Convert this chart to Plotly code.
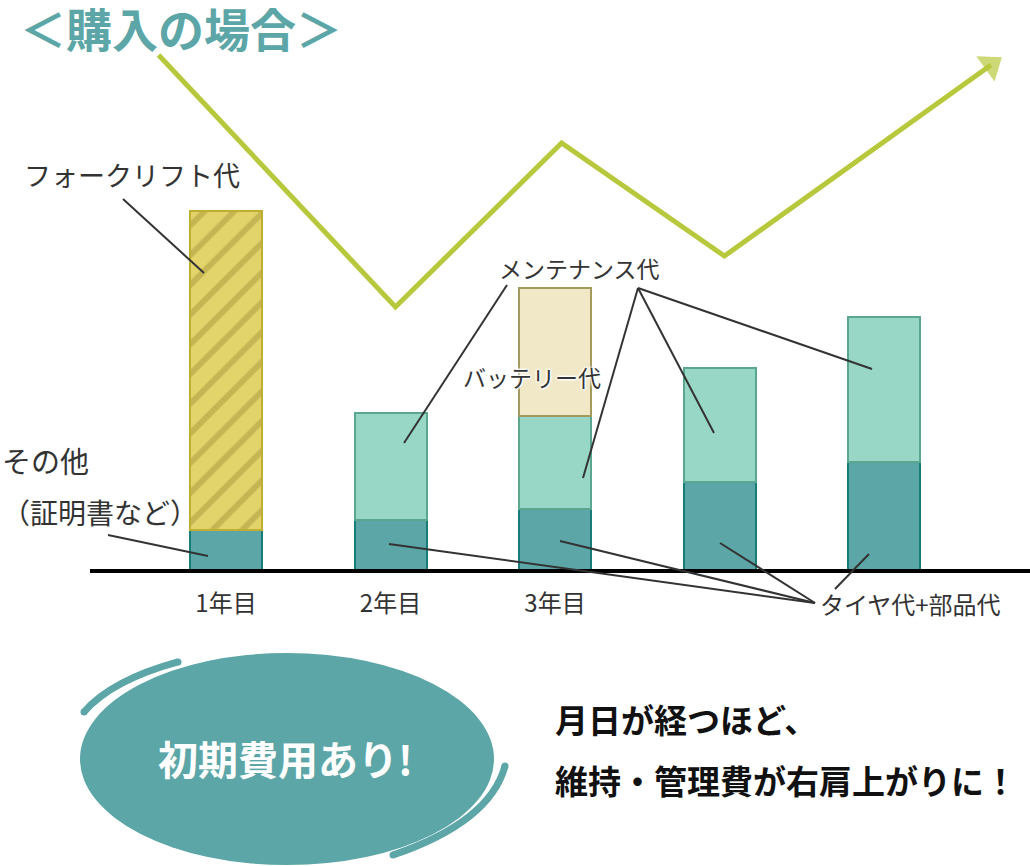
import plotly.graph_objects as go

W, H = 1030, 866

# ---- data -------------------------------------------------------------
positions = [1, 2, 3, 4, 5]
tick_positions = [1, 2, 3]
tick_labels = ["1年目", "2年目", "3年目"]

tire_parts = [41, 51, 62, 89, 109]          # タイヤ代+部品代 / その他
forklift = [319, None, None, None, None]    # フォークリフト代
maintenance = [None, 107, 93, 114, 145]     # メンテナンス代
battery = [None, None, 128, None, None]     # バッテリー代

trend_x = [0.59, 2.03, 3.04, 4.03, 5.65]
trend_y = [516, 264, 428, 315, 506]

# ---- colours ----------------------------------------------------------
TEAL = "#5ca6a8"
TEAL_LINE = "#187c78"
MINT = "#98d7c5"
MINT_LINE = "#5aa68e"
BEIGE = "#f0e8c7"
BEIGE_LINE = "#a39a5e"
YELLOW = "#e2d46b"
YELLOW_LINE = "#c0ae33"
HATCH = "#a8983c"
LIME = "#b8c83c"
FONT = "Noto Sans CJK JP"

BAR_W = 0.4377

fig = go.Figure()
fig.add_trace(go.Bar(x=positions, y=tire_parts, width=BAR_W,
                     marker=dict(color=TEAL, line=dict(color=TEAL_LINE, width=2))))
fig.add_trace(go.Bar(x=positions, y=forklift, width=BAR_W,
                     marker=dict(color=YELLOW, line=dict(color=YELLOW_LINE, width=2),
                                 pattern=dict(shape="/", fgcolor=HATCH, size=21, solidity=0.28))))
fig.add_trace(go.Bar(x=positions, y=maintenance, width=BAR_W,
                     marker=dict(color=MINT, line=dict(color=MINT_LINE, width=2))))
fig.add_trace(go.Bar(x=positions, y=battery, width=BAR_W,
                     marker=dict(color=BEIGE, line=dict(color=BEIGE_LINE, width=2))))

fig.add_trace(go.Scatter(
    x=trend_x, y=trend_y, mode="lines+markers",
    line=dict(color=LIME, width=5),
    marker=dict(symbol=["circle"] * 4 + ["triangle-up"], size=[0, 0, 0, 0, 27],
                color=LIME, angleref="previous", line=dict(width=0)),
))


def P(px, py):
    return px / W, 1 - py / H


def pxpath(cmds):
    out = []
    for c in cmds:
        if isinstance(c, str):
            out.append(c)
        else:
            x, y = P(*c)
            out.append(f"{x:.5f},{y:.5f}")
    return " ".join(out)


shapes = []
# ellipse and swooshes
x0, y0 = P(80, 865)
x1, y1 = P(494, 653)
shapes.append(dict(type="circle", xref="paper", yref="paper", x0=x0, x1=x1, y0=y0, y1=y1,
                   fillcolor=TEAL, line=dict(width=0), layer="below"))
shapes.append(dict(type="path", xref="paper", yref="paper",
                   path=pxpath(["M", (84, 712), "Q", (112, 680), (178, 662)]),
                   line=dict(color=TEAL, width=7)))
shapes.append(dict(type="path", xref="paper", yref="paper",
                   path=pxpath(["M", (505, 766), "Q", (490, 822), (393, 855)]),
                   line=dict(color=TEAL, width=7)))
# rounded caps for swooshes
for cx, cy in [(84, 712), (178, 662), (505, 766), (393, 855)]:
    a0, b0 = P(cx - 3.5, cy + 3.5)
    a1, b1 = P(cx + 3.5, cy - 3.5)
    shapes.append(dict(type="circle", xref="paper", yref="paper", x0=a0, y0=b0, x1=a1, y1=b1,
                       fillcolor=TEAL, line=dict(width=0)))

# baseline
shapes.append(dict(type="line", xref="paper", yref="y", x0=90 / W, x1=1, y0=0, y1=0,
                   line=dict(color="black", width=4), layer="above"))

# leader lines
leaders = [
    ((123, 199), (204, 273)),
    ((108, 535), (208, 556)),
    ((507, 285), (404, 443)),
    ((638, 288), (583, 478)),
    ((638, 288), (714, 433)),
    ((638, 288), (872, 369)),
    ((389, 544), (815, 603)),
    ((560, 541), (815, 603)),
    ((720, 543), (815, 603)),
    ((869, 554), (835, 589)),
]
for a, b in leaders:
    xa, ya = P(*a)
    xb, yb = P(*b)
    shapes.append(dict(type="line", xref="paper", yref="paper", x0=xa, y0=ya, x1=xb, y1=yb,
                       line=dict(color="#333333", width=2), layer="above"))

annotations = []


def txt(text, px, py, size, color="#333333", weight="normal", xanchor="left",
        yanchor="middle", shadow=None, **kw):
    x, y = P(px, py)
    f = dict(family=FONT, size=size, color=color, weight=weight)
    if shadow:
        f["shadow"] = shadow
    annotations.append(dict(text=text, x=x, y=y, xref="paper", yref="paper",
                            xanchor=xanchor, yanchor=yanchor, showarrow=False, font=f, **kw))


txt("＜購入の場合＞", 18, 0, 46, color=TEAL, weight="bold", yanchor="top",
    height=50, valign="middle")
txt("フォークリフト代", 22, 175, 27)
txt("その他", 0, 460, 29)
txt("（証明書など）", 0, 512, 28)
txt("メンテナンス代", 497, 268, 23)
txt("バッテリー代", 461, 377, 23,
    shadow="1px 1px 2px white, -1px -1px 2px white, 1px -1px 2px white, -1px 1px 2px white")
txt("タイヤ代+部品代", 818, 603, 24)
txt("初期費用あり!", 285, 758, 40, color="white", weight="bold", xanchor="center")
txt("月日が経つほど、", 553, 719, 33, color="#111111", weight="bold")
txt("維持・管理費が右肩上がりに！", 553, 780, 33, color="#111111", weight="bold")

fig.update_layout(
    width=W, height=H,
    margin=dict(l=0, r=0, t=0, b=0),
    paper_bgcolor="white", plot_bgcolor="rgba(0,0,0,0)",
    barmode="stack", bargap=0, showlegend=False,
    shapes=shapes, annotations=annotations,
    xaxis=dict(range=[-0.3739, 5.8875], tickvals=tick_positions, ticktext=tick_labels,
               showgrid=False, zeroline=False, showline=False, ticks="",
               anchor="free", position=1 - 571 / H, ticklabelstandoff=16,
               tickfont=dict(family=FONT, size=24, color="#333333"), fixedrange=True),
    yaxis=dict(range=[571 - H, 571], showgrid=False, zeroline=False, showline=False,
               showticklabels=False, ticks="", fixedrange=True),
    font=dict(family=FONT),
)

fig.write_html("out.html")
